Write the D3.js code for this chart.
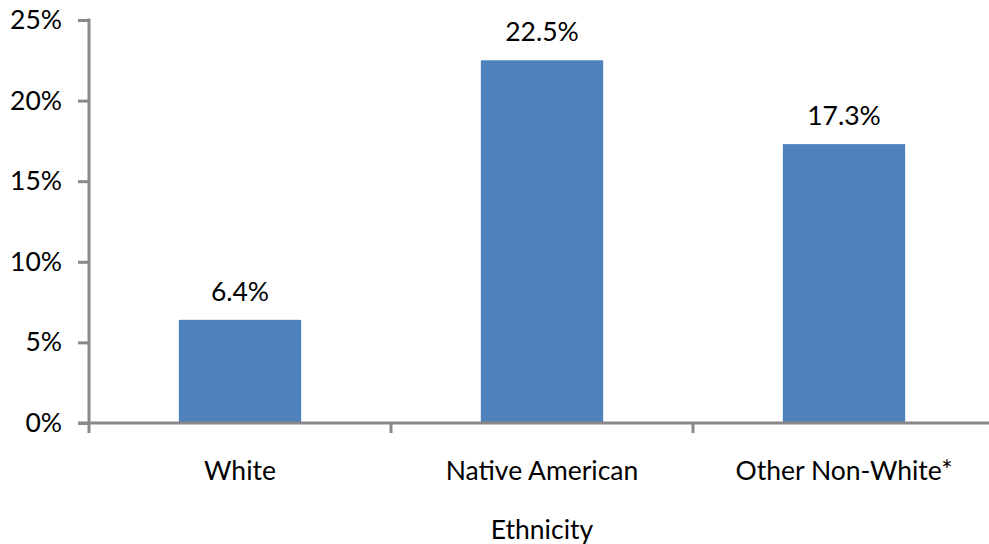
<!DOCTYPE html>
<html><head><meta charset="utf-8">
<script src="https://cdn.jsdelivr.net/npm/d3@7"></script>
<style>body{margin:0;background:#fff}svg{display:block}text{font-family:Lato,"Open Sans",sans-serif;fill:#000}</style>
</head><body>
<svg id="c" width="989" height="544"></svg>
<script>
const categories = ["White", "Native American", "Other Non-White*"];
const values = [6.4, 22.5, 17.3];
const valueLabels = ["6.4%", "22.5%", "17.3%"];
const yTicks = [0, 5, 10, 15, 20, 25];
const xTitle = "Ethnicity";

const svg = d3.select("#c");
const x0 = 89, x1 = 995, yTop = 20, yBot = 423;
const fs = 26.5;
const x = d3.scaleBand().domain(categories).range([x0, x1]).padding(0);
const y = d3.scaleLinear().domain([0, 25]).range([yBot, yTop]);
const axisColor = "#898989";

const bw = x.bandwidth() * 0.405;
svg.selectAll("rect.bar").data(values).enter().append("rect")
  .attr("x", (d, i) => x(categories[i]) + x.bandwidth() / 2 - bw / 2)
  .attr("y", d => y(d)).attr("width", bw).attr("height", d => y(0) - y(d))
  .attr("fill", "#4F81BD");

svg.selectAll("text.val").data(values).enter().append("text")
  .attr("x", (d, i) => x(categories[i]) + x.bandwidth() / 2)
  .attr("y", d => y(d) - 19).attr("text-anchor", "middle")
  .style("font-size", fs + "px").text((d, i) => valueLabels[i]);

// y axis
const ya = svg.append("g").attr("transform", `translate(${x0},0)`)
  .call(d3.axisLeft(y).tickValues(yTicks).tickSize(11).tickPadding(16).tickFormat(d => d + "%"));
ya.select(".domain").remove();
ya.selectAll(".tick line").attr("stroke", axisColor).attr("stroke-width", 3);
ya.selectAll(".tick text").style("font-size", fs + "px").style("font-family", "Lato").attr("fill", "#000");
svg.append("line").attr("x1", x0).attr("x2", x0).attr("y1", yTop - 1.5).attr("y2", yBot + 10)
  .attr("stroke", axisColor).attr("stroke-width", 3);

// x axis
svg.append("line").attr("x1", x0 - 11).attr("x2", x1 + 5).attr("y1", yBot).attr("y2", yBot)
  .attr("stroke", axisColor).attr("stroke-width", 3);
const xb = categories.map(c => x(c)).slice(1).concat([x1]);
svg.selectAll("line.xt").data(xb).enter().append("line")
  .attr("x1", d => d).attr("x2", d => d).attr("y1", yBot).attr("y2", yBot + 10)
  .attr("stroke", axisColor).attr("stroke-width", 3);

svg.selectAll("text.cat").data(categories).enter().append("text")
  .attr("x", d => x(d) + x.bandwidth() / 2).attr("y", 480).attr("text-anchor", "middle")
  .style("font-size", fs + "px").text(d => d);

svg.append("text").attr("x", x0 + (x1 - x0) / 2).attr("y", 539).attr("text-anchor", "middle")
  .style("font-size", fs + "px").text(xTitle);
</script>
</body></html>
